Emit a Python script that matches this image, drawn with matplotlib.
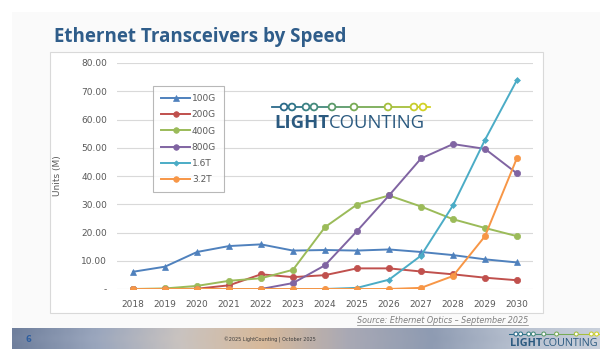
import matplotlib.pyplot as plt
import numpy as np
from matplotlib.patches import Rectangle, Circle
from matplotlib.colors import LinearSegmentedColormap

# Data (millions of units)
years = [2018, 2019, 2020, 2021, 2022, 2023, 2024, 2025, 2026, 2027, 2028, 2029, 2030]
g100 = [6.1, 7.9, 13.1, 15.2, 15.8, 13.6, 13.8, 13.6, 14.0, 13.1, 12.0, 10.5, 9.4]
g200 = [0.0, 0.0, 0.1, 1.3, 5.2, 4.2, 4.9, 7.3, 7.3, 6.2, 5.2, 4.0, 3.1]
g400 = [0.0, 0.2, 1.1, 2.9, 3.8, 6.8, 21.9, 29.9, 33.1, 29.2, 24.7, 21.6, 18.7]
g800 = [0.0, 0.0, 0.0, 0.0, 0.0, 2.1, 8.4, 20.5, 33.1, 46.2, 51.3, 49.6, 40.9]
t16 = [0.0, 0.0, 0.0, 0.0, 0.0, 0.0, 0.0, 0.4, 3.3, 11.8, 29.6, 52.8, 74.0]
t32 = [0.0, 0.0, 0.0, 0.0, 0.0, 0.0, 0.0, 0.0, 0.0, 0.4, 4.6, 18.7, 46.4]

series = [("100G", g100, "#4F81BD", "^", 4.5),
          ("200G", g200, "#C0504D", "o", 4.5),
          ("400G", g400, "#9BBB59", "o", 4.5),
          ("800G", g800, "#8064A2", "o", 4.5),
          ("1.6T", t16, "#4BACC6", "D", 3.0),
          ("3.2T", t32, "#F79646", "o", 4.5)]

W, H = 600, 357
fig = plt.figure(figsize=(6, 3.57), dpi=100)
fig.patch.set_facecolor("white")

# background layer in pixel coords (0,0 top-left)
bg = fig.add_axes([0, 0, 1, 1], zorder=0)
bg.set_xlim(0, W)
bg.set_ylim(H, 0)
bg.axis("off")
bg.add_patch(Rectangle((12, 12), W - 12, 337, facecolor="#fafafa", edgecolor="none"))
bg.add_patch(Rectangle((50, 52), 493, 261, facecolor="white", edgecolor="#d9d9d9", lw=0.8))

# footer banner
grad = np.linspace(0, 1, 300)
cmap = LinearSegmentedColormap.from_list("banner", ["#6f7f9c", "#9aa6bd", "#c9c3c0", "#d7b99a",
                                                    "#a9a9b5", "#8e9bb2", "#b7c0cf", "#c9d0db"])
rows = np.vstack([grad, grad * 0.98 + 0.01, grad])
bg.imshow(rows, cmap=cmap, aspect="auto", extent=(12, W, 349, 328), zorder=1)
bg.text(25, 340, "6", fontsize=6, color="#2e5e9e", fontweight="bold", va="center", zorder=2)
bg.text(270, 340, "\u00a92025 LightCounting | October 2025", fontsize=3.5, color="#3a3a3a",
        va="center", ha="center", zorder=2)

bg.text(54, 42, "Ethernet Transceivers by Speed", fontsize=13.5, fontweight="bold",
        color="#2f5d8a", family="Open Sans", va="baseline")


def draw_logo(ax, x0, y0, s):
    # chain of rings above the wordmark
    xs = [12, 20, 34, 42, 60, 82, 116, 142, 151]
    cols = ["#2b6a8a", "#2f7489", "#3a8184", "#458a7c", "#5b9a6a",
            "#78ab55", "#a6bf3c", "#c7cd2c", "#d2d226"]
    for i in range(len(xs) - 1):
        ax.plot([x0 + xs[i] * s, x0 + xs[i + 1] * s], [y0, y0], color=cols[i], lw=1.3 * s, zorder=3)
    ax.plot([x0, x0 + xs[0] * s], [y0, y0], color=cols[0], lw=1.3 * s, zorder=3)
    ax.plot([x0 + xs[-1] * s, x0 + 158 * s], [y0, y0], color=cols[-1], lw=1.3 * s, zorder=3)
    for x, c in zip(xs, cols):
        ax.add_patch(Circle((x0 + x * s, y0), 3.4 * s, facecolor="white", edgecolor=c,
                            lw=1.3 * s, zorder=4))
    ax.text(x0 + 57 * s, y0 + 21 * s, "LIGHT", fontsize=13.3 * s, fontweight="bold",
            color="#2b5a80", family="Open Sans", ha="right", va="baseline", zorder=4)
    ax.text(x0 + 57 * s, y0 + 21 * s, "COUNTING", fontsize=13.3 * s, color="#2b5a80",
            family="Open Sans", ha="left", va="baseline", zorder=4)


# main chart
ax = fig.add_axes([117 / W, 1 - 289 / H, 416 / W, 226 / H], zorder=2)
ax.patch.set_alpha(0)
for name, vals, col, mk, ms in series:
    ax.plot(years, vals, color=col, marker=mk, markersize=ms, lw=1.4, label=name,
            markeredgewidth=0.5)

ax.set_xlim(2017.5, 2030.5)
ax.set_ylim(0, 80)
ax.set_xticks(years)
ax.set_xticklabels([str(y) for y in years])
yt = np.arange(0, 81, 10)
ax.set_yticks(yt)
ax.set_yticklabels(["-" if v == 0 else f"{v:.2f}" for v in yt])
ax.tick_params(length=0, labelsize=6.5, labelcolor="#595959", pad=7)
ax.tick_params(axis="x", pad=8)
ax.grid(axis="y", color="#d9d9d9", lw=0.8)
ax.set_axisbelow(True)
for sp in ax.spines.values():
    sp.set_visible(False)
ax.set_ylabel("Units (M)", fontsize=6.5, color="#595959", labelpad=14)

leg = ax.legend(loc="upper left", bbox_to_anchor=(0.0865, 0.898), borderaxespad=0,
                fontsize=6.5, labelcolor="#595959", frameon=True, fancybox=False,
                handlelength=3.2, labelspacing=0.8, handletextpad=0.2,
                borderpad=0.9, markerscale=0.9)
leg.get_frame().set_edgecolor("#a6a6a6")
leg.get_frame().set_linewidth(0.8)

# overlay for logos and source note
ov = fig.add_axes([0, 0, 1, 1], zorder=5)
ov.set_xlim(0, W)
ov.set_ylim(H, 0)
ov.axis("off")
ov.patch.set_alpha(0)
draw_logo(ov, 272, 107, 1.0)
draw_logo(ov, 509, 334, 0.58)

src = ov.text(528, 323, "Source: Ethernet Optics \u2013 September 2025", fontsize=5.8,
              style="italic", color="#7f7f7f", ha="right", va="baseline")
fig.canvas.draw()
bb = src.get_window_extent().transformed(ov.transData.inverted())
ov.plot([bb.x0, bb.x1], [324.5, 324.5], color="#7f7f7f", lw=0.5)

fig.savefig("out.png", dpi=100)
